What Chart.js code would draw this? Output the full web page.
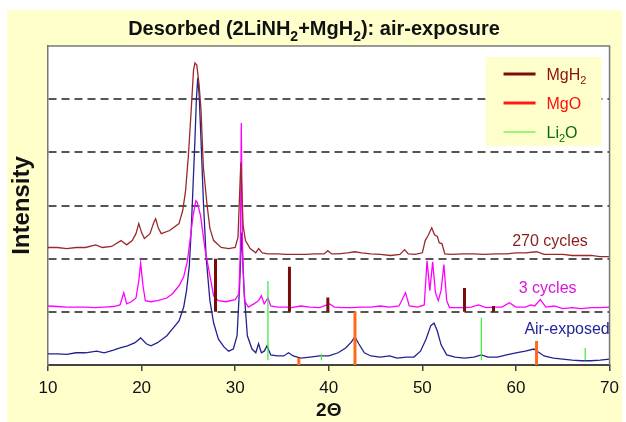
<!DOCTYPE html>
<html>
<head>
<meta charset="utf-8">
<script src="https://cdn.jsdelivr.net/npm/chart.js@4/dist/chart.umd.min.js"></script>
<style>
  html, body { margin: 0; padding: 0; background: #fff; }
  canvas { display: block; }
</style>
</head>
<body>
<canvas id="xrd" width="626" height="422"></canvas>
<script>
// 2-theta ticks
var thetaTicks = [10, 20, 30, 40, 50, 60, 70];

// Air-exposed pattern
var airTheta = [10, 11, 12, 13, 14, 15.2, 16, 17, 17.7, 18.5, 19.3, 19.9, 20.5, 21, 21.7, 22.7, 23.3, 24, 24.5, 24.8,
  25.1, 25.3, 25.5, 25.7, 25.85, 26, 26.15, 26.35, 26.6, 26.9, 27.3, 27.7, 28.2, 28.8, 29.3, 29.8, 30.2, 30.45, 30.7, 30.95,
  31.3, 31.8, 32.2, 32.5, 32.8, 33.1, 33.4, 33.8, 34.5, 35.2, 35.7, 36.2, 37, 38, 39, 40, 41, 41.8, 42.4, 42.8,
  43.2, 43.8, 44.5, 45.5, 46.5, 47.3, 48.3, 49.1, 49.8, 50.4, 50.9, 51.25, 51.6, 52, 52.6, 53.5, 54.5, 55.5, 56.3, 57,
  58, 59, 60, 61, 61.9, 62.5, 63, 64, 65, 66, 67, 68, 69, 70];
var airI = [0.21, 0.21, 0.2, 0.23, 0.23, 0.26, 0.23, 0.28, 0.32, 0.36, 0.42, 0.51, 0.4, 0.36, 0.42, 0.55, 0.68, 0.83, 1.09, 1.4,
  1.87, 2.53, 3.38, 4.23, 4.98, 5.4, 5.08, 4.23, 3.09, 2.02, 1.21, 0.79, 0.49, 0.34, 0.26, 0.3, 0.55, 1.4, 2.49, 1.4,
  0.55, 0.3, 0.23, 0.4, 0.23, 0.26, 0.36, 0.19, 0.17, 0.17, 0.23, 0.17, 0.13, 0.15, 0.17, 0.17, 0.23, 0.32, 0.43, 0.53,
  0.4, 0.23, 0.17, 0.15, 0.17, 0.13, 0.15, 0.15, 0.26, 0.49, 0.74, 0.79, 0.64, 0.38, 0.19, 0.15, 0.13, 0.15, 0.19, 0.15,
  0.15, 0.19, 0.23, 0.26, 0.3, 0.23, 0.17, 0.13, 0.11, 0.09, 0.08, 0.08, 0.09, 0.11];

// 3 cycles
var cyc3Theta = [10, 11, 12, 13, 14, 15, 16, 17, 17.7, 18.1, 18.4, 18.9, 19.4, 19.7, 19.9, 20.15, 20.4, 21, 21.7, 22.7,
  23.3, 24, 24.5, 24.9, 25.2, 25.5, 25.8, 25.95, 26.3, 26.8, 27.3, 27.7, 28.2, 29, 30, 30.4, 30.55, 30.65, 30.8, 31,
  31.4, 32, 32.5, 32.8, 33.1, 33.5, 33.8, 34.5, 35.5, 36, 37, 38, 39, 40.1, 40.6, 41.5, 42.5, 43.5, 44.5, 45.5,
  46.5, 47.5, 48.2, 48.6, 49.5, 50.2, 50.5, 50.8, 51.1, 51.4, 51.7, 52, 52.3, 52.6, 52.9, 53.5, 54.4, 55.2, 56, 56.8,
  57.8, 58.5, 59.3, 60, 61, 61.6, 62, 62.6, 63.2, 64.1, 65, 66, 67, 68, 69, 70];
var cyc3I = [1.11, 1.1, 1.09, 1.09, 1.09, 1.08, 1.09, 1.1, 1.13, 1.36, 1.15, 1.19, 1.26, 1.58, 1.92, 1.49, 1.21, 1.19, 1.21, 1.26,
  1.34, 1.49, 1.66, 1.96, 2.38, 2.81, 3.09, 3.06, 2.81, 2.15, 1.68, 1.3, 1.21, 1.19, 1.23, 1.34, 2.15, 4.55, 1.96, 1.21,
  1.09, 1.15, 1.21, 1.3, 1.15, 1.26, 1.11, 1.09, 1.09, 1.08, 1.11, 1.09, 1.08, 1.15, 1.09, 1.08, 1.08, 1.09, 1.09, 1.11,
  1.09, 1.11, 1.36, 1.11, 1.09, 1.13, 1.96, 1.4, 1.94, 1.36, 1.21, 1.4, 1.89, 1.21, 1.08, 1.08, 1.08, 1.09, 1.13, 1.08,
  1.09, 1.09, 1.17, 1.09, 1.09, 1.13, 1.11, 1.23, 1.09, 1.11, 1.06, 1.08, 1.06, 1.08, 1.08, 1.09];

// 270 cycles
var cyc270Theta = [10, 11, 12, 13, 14, 15.1, 15.8, 16.8, 17.8, 18.4, 19, 19.4, 19.7, 20, 20.3, 20.9, 21.3, 21.5, 21.8, 22.1,
  23, 24, 24.4, 24.7, 25, 25.3, 25.55, 25.7, 25.9, 26.15, 26.35, 26.6, 27, 27.3, 27.7, 28.5, 29.3, 30, 30.3, 30.6,
  30.85, 31.1, 31.6, 32.2, 32.5, 32.9, 33.5, 34.5, 35.5, 36.7, 37.5, 38.5, 39.5, 39.9, 40.3, 41, 42, 42.8, 43.5, 44.5,
  45.5, 46.6, 47.6, 48.1, 48.5, 49.2, 50, 50.3, 50.6, 51, 51.3, 51.6, 51.8, 52.1, 52.4, 53, 54.4, 55.5, 56.5, 57.9,
  59, 60, 61, 62.2, 63, 64, 65, 66, 67, 68, 69, 70];
var cyc270I = [2.21, 2.21, 2.19, 2.21, 2.21, 2.26, 2.21, 2.23, 2.34, 2.26, 2.34, 2.47, 2.66, 2.49, 2.38, 2.47, 2.68, 2.75, 2.57, 2.47,
  2.53, 2.66, 2.91, 3.28, 3.94, 4.79, 5.55, 5.68, 5.64, 5.26, 4.79, 3.72, 3.0, 2.57, 2.34, 2.21, 2.19, 2.21, 2.4, 3.81,
  2.62, 2.34, 2.19, 2.11, 2.19, 2.11, 2.09, 2.09, 2.08, 2.08, 2.08, 2.09, 2.09, 2.15, 2.09, 2.09, 2.11, 2.13, 2.11, 2.09,
  2.08, 2.06, 2.08, 2.17, 2.09, 2.08, 2.11, 2.34, 2.43, 2.58, 2.45, 2.42, 2.3, 2.28, 2.09, 2.08, 2.09, 2.09, 2.08, 2.09,
  2.09, 2.11, 2.11, 2.13, 2.08, 2.08, 2.08, 2.06, 2.06, 2.06, 2.04, 2.04];

// reference peak positions (stick patterns)
var mgh2Pos = [27.9, 35.8, 39.9, 54.5, 57.6];
var mgh2Top = [2.0, 1.85, 1.27, 1.45, 1.11];
var mgh2Base = 1.0;
var mgoPos = [36.8, 42.8, 62.2];
var mgoTop = [0.13, 1.0, 0.45];
var mgoBase = 0;
var li2oPos = [33.5, 39.2, 56.3, 67.4];
var li2oTop = [1.58, 0.21, 0.89, 0.32];
var li2oBase = 0.09;

// where the curve names go (data units)
var curveLabels = [
  { text: '270 cycles', x: 59.6, y: 2.32, color: '#8b1c1c' },
  { text: '3 cycles', x: 60.3, y: 1.43, color: '#dd11dd' },
  { text: 'Air-exposed', x: 60.9, y: 0.66, color: '#23239a' }
];

var FONT = "'Liberation Sans', Arial, Helvetica, sans-serif";

function curve(xs, ys) {
  return xs.map(function(x, i) { return { x: x, y: ys[i] }; });
}

function sticks(pos, top, base) {
  var pts = [];
  pos.forEach(function(p, i) {
    pts.push({ x: p, y: base }, { x: p, y: top[i] }, { x: p, y: null });
  });
  return pts;
}

// text with subscripts: parts = [[text, isSub], ...]
function richWidth(ctx, parts, size, weight) {
  var w = 0;
  parts.forEach(function(p) {
    ctx.font = weight + ' ' + (p[1] ? Math.round(size * 0.68) : size) + 'px ' + FONT;
    w += ctx.measureText(p[0]).width;
  });
  return w;
}
function richText(ctx, parts, x, y, size, weight, color) {
  ctx.fillStyle = color;
  ctx.textBaseline = 'alphabetic';
  ctx.textAlign = 'left';
  parts.forEach(function(p) {
    ctx.font = weight + ' ' + (p[1] ? Math.round(size * 0.68) : size) + 'px ' + FONT;
    ctx.fillText(p[0], x, p[1] ? y + size * 0.28 : y);
    x += ctx.measureText(p[0]).width;
  });
}

var titleParts = [['Desorbed (2LiNH', 0], ['2', 1], ['+MgH', 0], ['2', 1], ['): air-exposure', 0]];
var legendItems = [
  { parts: [['MgH', 0], ['2', 1]], line: '#7a0c0c', width: 3, text: '#8b1010' },
  { parts: [['MgO', 0]], line: '#ff1a1a', width: 3, text: '#ff1010' },
  { parts: [['Li', 0], ['2', 1], ['O', 0]], line: '#33ee33', width: 1.2, text: '#0a6a0a' }
];

var decor = {
  id: 'decor',
  beforeDraw: function(chart) {
    var ctx = chart.ctx, a = chart.chartArea;
    ctx.save();
    ctx.fillStyle = '#fff';
    ctx.fillRect(0, 0, chart.width, chart.height);
    ctx.fillStyle = '#ffffcc';
    ctx.fillRect(7, 10, 615, 412);
    ctx.fillStyle = '#fff';
    ctx.fillRect(a.left, a.top, a.right - a.left, a.bottom - a.top);
    ctx.restore();
  },
  afterDatasetsDraw: function(chart) {
    var ctx = chart.ctx, a = chart.chartArea;
    var xs = chart.scales.x, ys = chart.scales.y;
    ctx.save();
    // top and right frame
    ctx.strokeStyle = '#777';
    ctx.lineWidth = 1.5;
    ctx.beginPath();
    ctx.moveTo(a.left, a.top);
    ctx.lineTo(a.right, a.top);
    ctx.lineTo(a.right, a.bottom);
    ctx.stroke();

    // curve names, cut at the frame like the original
    ctx.beginPath();
    ctx.rect(a.left, a.top, a.right - a.left, a.bottom - a.top);
    ctx.clip();
    ctx.font = '16px ' + FONT;
    ctx.textBaseline = 'middle';
    curveLabels.forEach(function(l) {
      ctx.fillStyle = l.color;
      ctx.fillText(l.text, xs.getPixelForValue(l.x), ys.getPixelForValue(l.y));
    });
    ctx.restore();

    // legend box
    ctx.save();
    var bx = a.right - 124, by = a.top + 11, bw = 116, bh = 89;
    ctx.fillStyle = '#ffffcc';
    ctx.fillRect(bx, by, bw, bh);
    legendItems.forEach(function(it, i) {
      var ly = by + 17 + i * 29;
      ctx.strokeStyle = it.line;
      ctx.lineWidth = it.width;
      ctx.beginPath();
      ctx.moveTo(bx + 18, ly);
      ctx.lineTo(bx + 50, ly);
      ctx.stroke();
      richText(ctx, it.parts, bx + 61, ly + 6, 16, 'normal', it.text);
    });
    ctx.restore();
  },
  afterDraw: function(chart) {
    var ctx = chart.ctx;
    ctx.save();
    var w = richWidth(ctx, titleParts, 20, 'bold');
    richText(ctx, titleParts, 314 - w / 2, 35, 20, 'bold', '#111');
    ctx.restore();
  }
};

new Chart(document.getElementById('xrd'), {
  type: 'line',
  data: {
    datasets: [
      { label: 'MgH2', data: sticks(mgh2Pos, mgh2Top, mgh2Base), borderColor: '#7a0c0c', borderWidth: 3, order: 1 },
      { label: 'MgO', data: sticks(mgoPos, mgoTop, mgoBase), borderColor: '#ff6a1a', borderWidth: 3, order: 1 },
      { label: 'Li2O', data: sticks(li2oPos, li2oTop, li2oBase), borderColor: '#33ee33', borderWidth: 1.2, order: 1 },
      { label: '270 cycles', data: curve(cyc270Theta, cyc270I), borderColor: '#9a2a2a', borderWidth: 1.3, order: 2 },
      { label: '3 cycles', data: curve(cyc3Theta, cyc3I), borderColor: '#ff00ff', borderWidth: 1.3, order: 3 },
      { label: 'Air-exposed', data: curve(airTheta, airI), borderColor: '#22228f', borderWidth: 1.3, order: 4 }
    ]
  },
  options: {
    responsive: false,
    animation: false,
    spanGaps: false,
    elements: { point: { radius: 0 }, line: { tension: 0 } },
    layout: { padding: { top: 46, right: 13, left: 0, bottom: 0 } },
    plugins: { legend: { display: false }, tooltip: { enabled: false }, title: { display: false } },
    scales: {
      x: {
        type: 'linear',
        min: 10,
        max: 70,
        afterBuildTicks: function(s) { s.ticks = thetaTicks.map(function(v) { return { value: v }; }); },
        afterFit: function(s) { s.height = 57; },
        ticks: { color: '#111', font: { family: FONT, size: 17 }, padding: 7, maxRotation: 0 },
        grid: { drawOnChartArea: false, tickLength: 6, color: '#444', lineWidth: 1.5 },
        border: { color: '#444', width: 2 },
        title: { display: true, text: '2Θ', color: '#111', font: { family: FONT, size: 19, weight: 'bold' }, padding: { top: 0, bottom: 0 } }
      },
      y: {
        min: 0,
        max: 6,
        afterFit: function(s) { s.width = 48; },
        ticks: { stepSize: 1, display: false },
        grid: {
          drawTicks: false,
          lineWidth: 2,
          color: function(c) { return (c.tick && c.tick.value > 0 && c.tick.value < 6) ? '#555' : 'rgba(0,0,0,0)'; }
        },
        border: { color: '#777', width: 1.5, dash: [8, 5] },
        title: { display: true, text: 'Intensity', color: '#111', font: { family: FONT, size: 24, weight: 'bold' }, padding: { top: 8, bottom: 0 } }
      }
    }
  },
  plugins: [decor]
});
</script>
</body>
</html>
